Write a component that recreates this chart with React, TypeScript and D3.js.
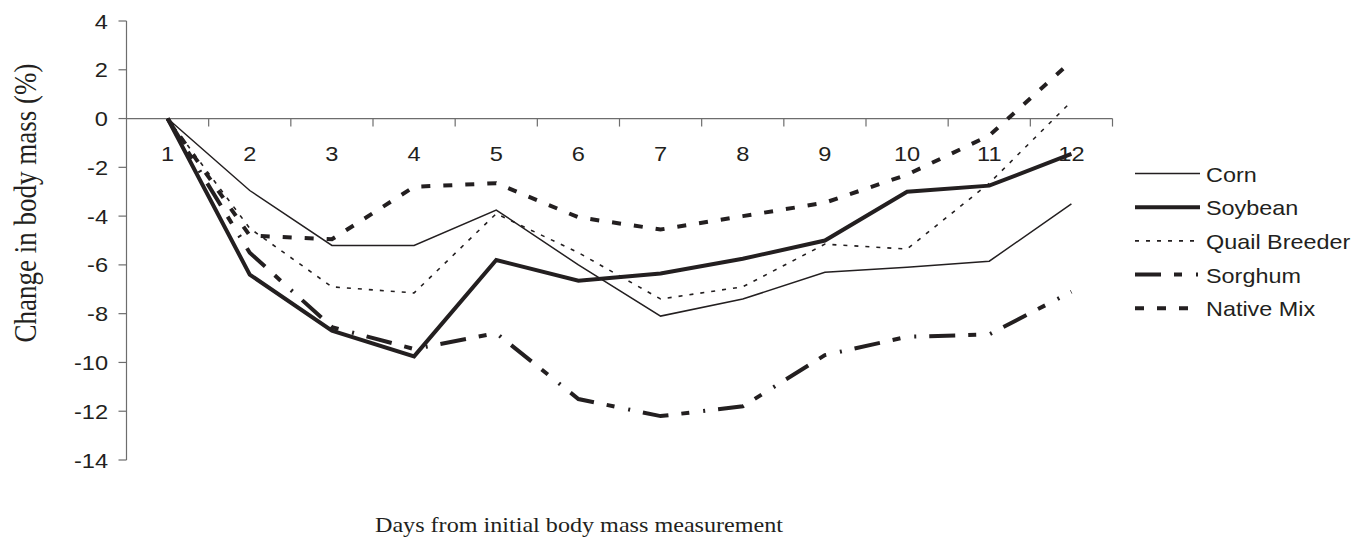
import React from "react";
import * as d3 from "d3";

const days = ["1", "2", "3", "4", "5", "6", "7", "8", "9", "10", "11", "12"];
const corn = [0, -2.95, -5.2, -5.2, -3.75, -6.0, -8.1, -7.4, -6.3, -6.1, -5.85, -3.5];
const soybean = [0, -6.4, -8.7, -9.75, -5.8, -6.65, -6.35, -5.75, -5.0, -3.0, -2.75, -1.45];
const quailBreeder = [0, -4.5, -6.9, -7.15, -3.9, -5.5, -7.4, -6.9, -5.15, -5.35, -2.65, 0.7];
const sorghum = [0, -5.5, -8.55, -9.45, -8.8, -11.5, -12.2, -11.8, -9.7, -8.95, -8.85, -7.1];
const nativeMix = [0, -4.8, -4.95, -2.8, -2.65, -4.05, -4.55, -4.0, -3.45, -2.3, -0.7, 2.35];
const yTicks = [4, 2, 0, -2, -4, -6, -8, -10, -12, -14];

const seriesNames = ["Corn", "Soybean", "Quail Breeder", "Sorghum", "Native Mix"];
const seriesData = [corn, soybean, quailBreeder, sorghum, nativeMix];
const seriesStyle = [
  { w: 1.5, dash: "" },
  { w: 4, dash: "" },
  { w: 1.6, dash: "4 7" },
  { w: 4, dash: "26 13 8 14 2 13" },
  { w: 4, dash: "9 13" },
];

const W = 1371;
const H = 537;
const LINE = "#231f20";
const AXIS = "#6d6d6d";
const SANS = "'Liberation Sans', Arial, sans-serif";
const SERIF = "'Liberation Serif', 'Times New Roman', serif";

export default function App() {
  const x = d3.scaleBand<string>().domain(days).range([126.5, 1112.5]);
  const y = d3.scaleLinear().domain([-14, 4]).range([460, 21]);
  const cx = (d: string) => (x(d) as number) + x.bandwidth() / 2;
  const line = d3
    .line<number>()
    .x((_, i) => cx(days[i]))
    .y((v) => y(v));

  const boundaries = days.map((d) => (x(d) as number) + x.bandwidth());
  const legendX0 = 1135;
  const legendX1 = 1200;
  const legendY0 = 173.5;
  const legendStep = 33.7;

  return (
    <svg
      width={W}
      height={H}
      viewBox={`0 0 ${W} ${H}`}
      style={{ position: "absolute", left: 0, top: 0, background: "#fff" }}
    >
      <rect x={0} y={0} width={W} height={H} fill="#fff" />
      {/* y axis */}
      <line x1={126.5} x2={126.5} y1={y(4)} y2={y(-14)} stroke={AXIS} strokeWidth={1.2} />
      {yTicks.map((t) => (
        <g key={t}>
          <line x1={118.5} x2={126.5} y1={y(t)} y2={y(t)} stroke={AXIS} strokeWidth={1.2} />
          <text
            transform={`translate(108,${y(t) + 7.5}) scale(1.18,1)`}
            textAnchor="end"
            fontFamily={SANS}
            fontSize={20}
            fill={LINE}
          >
            {t}
          </text>
        </g>
      ))}
      {/* x axis at 0 */}
      <line x1={126.5} x2={1112.5} y1={y(0)} y2={y(0)} stroke={AXIS} strokeWidth={1.2} />
      {boundaries.map((b, i) => (
        <line key={i} x1={b} x2={b} y1={y(0)} y2={y(0) + 8} stroke={AXIS} strokeWidth={1.2} />
      ))}
      {days.map((d) => (
        <text
          key={d}
          transform={`translate(${cx(d)},${y(0) + 42}) scale(1.18,1)`}
          textAnchor="middle"
          fontFamily={SANS}
          fontSize={20}
          fill={LINE}
        >
          {d}
        </text>
      ))}
      {/* series */}
      {seriesData.map((s, i) => (
        <path
          key={seriesNames[i]}
          d={line(s) || ""}
          fill="none"
          stroke={LINE}
          strokeWidth={seriesStyle[i].w}
          strokeDasharray={seriesStyle[i].dash || undefined}
          strokeLinejoin="miter"
        />
      ))}
      {/* legend */}
      {seriesNames.map((n, i) => {
        const ly = legendY0 + i * legendStep;
        return (
          <g key={n}>
            <line
              x1={legendX0}
              x2={legendX1}
              y1={ly}
              y2={ly}
              stroke={LINE}
              strokeWidth={seriesStyle[i].w}
              strokeDasharray={seriesStyle[i].dash || undefined}
            />
            <text
              transform={`translate(1206,${ly + 8}) scale(1.17,1)`}
              fontFamily={SANS}
              fontSize={20}
              fill={LINE}
            >
              {n}
            </text>
          </g>
        );
      })}
      {/* axis titles */}
      <text
        transform={`translate(579,532) scale(1.15,1)`}
        textAnchor="middle"
        fontFamily={SERIF}
        fontSize={21}
        fill={LINE}
      >
        Days from initial body mass measurement
      </text>
      <text
        transform={`translate(36,203) scale(1.15,1) rotate(-90)`}
        textAnchor="middle"
        fontFamily={SERIF}
        fontSize={27}
        fill={LINE}
      >
        Change in body mass (%)
      </text>
    </svg>
  );
}
